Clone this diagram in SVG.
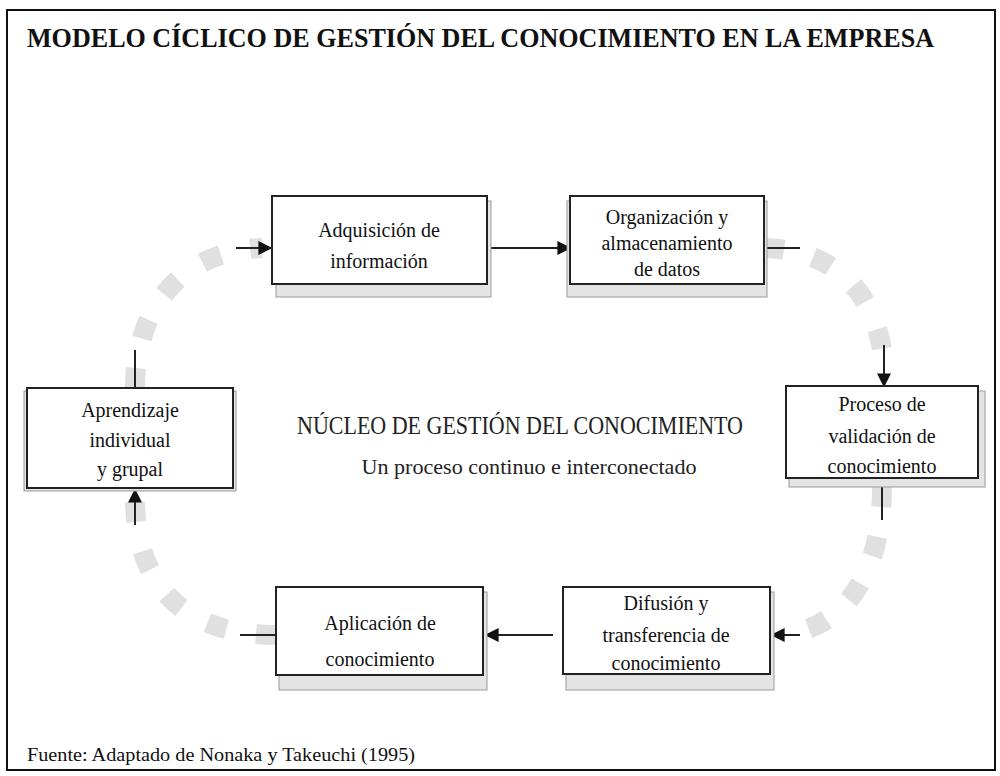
<svg xmlns="http://www.w3.org/2000/svg" width="1000" height="776" viewBox="0 0 1000 776">
<style>
.frame{fill:#fff;stroke:#111;stroke-width:2}
.box{fill:#fff;stroke:#222;stroke-width:2}
.shadow{fill:#e4e4e4;stroke:#9a9a9a;stroke-width:1}
.lbl{font-family:"Liberation Serif","Times New Roman",serif;font-size:20px;fill:#111;text-anchor:middle}
.title{font-family:"Liberation Serif","Times New Roman",serif;font-size:27px;font-weight:bold;fill:#111}
.ctr1{font-family:"Liberation Serif","Times New Roman",serif;font-size:25px;fill:#222;text-anchor:middle}
.ctr2{font-family:"Liberation Serif","Times New Roman",serif;font-size:21px;fill:#222;text-anchor:middle}
.foot{font-family:"Liberation Serif","Times New Roman",serif;font-size:18px;fill:#111}
.arc{fill:none;stroke:#e0e0e0;stroke-width:20;stroke-dasharray:20 30}
.conn{fill:none;stroke:#222;stroke-width:2;marker-end:url(#ah)}
.stub{fill:none;stroke:#222;stroke-width:2}
</style>
<defs>
<marker id="ah" viewBox="0 0 10 10" refX="9" refY="5" markerWidth="7" markerHeight="7" orient="auto-start-reverse">
<path d="M0,0 L10,5 L0,10 z" fill="#111"/>
</marker>
</defs>
<rect class="frame" x="7" y="10" width="988" height="760"/>
<text class="title" x="27" y="47" textLength="907" lengthAdjust="spacingAndGlyphs">MODELO CÍCLICO DE GESTIÓN DEL CONOCIMIENTO EN LA EMPRESA</text>

<g id="connectors">
<path class="arc" d="M135,388 C135,300 190,250 262,248"/>
<path class="arc" d="M764,248 C840,250 884,300 884,378"/>
<path class="arc" d="M882,487 C882,580 840,630 780,635"/>
<path class="arc" d="M276,635 C190,635 135,590 135,498"/>
<path class="conn" d="M487,248 L570,248"/>
<path class="conn" d="M553,635 L486,635"/>
<path class="conn" d="M236,248 L271,248"/>
<path class="conn" d="M884,345 L884,386"/>
<path class="conn" d="M800,635 L772,635"/>
<path class="conn" d="M135,525 L135,490"/>
<path class="stub" d="M135,388 L135,350"/>
<path class="stub" d="M764,248 L800,248"/>
<path class="stub" d="M882,487 L882,520"/>
<path class="stub" d="M276,635 L240,635"/>
</g>

<g id="n1">
<rect class="shadow" x="276" y="201" width="215" height="96"/>
<rect class="box" x="272" y="196" width="215" height="88"/>
<text class="lbl" x="379" y="237">Adquisición de</text>
<text class="lbl" x="379" y="268">información</text>
</g>
<g id="n2">
<rect class="shadow" x="567" y="201" width="200" height="96"/>
<rect class="box" x="570" y="196" width="194" height="88"/>
<text class="lbl" x="667" y="224">Organización y</text>
<text class="lbl" x="667" y="250">almacenamiento</text>
<text class="lbl" x="667" y="276">de datos</text>
</g>
<g id="n3">
<rect class="shadow" x="789" y="391" width="196" height="96"/>
<rect class="box" x="786" y="386" width="192" height="92"/>
<text class="lbl" x="882" y="411">Proceso de</text>
<text class="lbl" x="882" y="443">validación de</text>
<text class="lbl" x="882" y="473">conocimiento</text>
</g>
<g id="n4">
<rect class="shadow" x="566" y="592" width="208" height="98"/>
<rect class="box" x="563" y="587" width="207" height="87"/>
<text class="lbl" x="666" y="610">Difusión y</text>
<text class="lbl" x="666" y="642">transferencia de</text>
<text class="lbl" x="666" y="670">conocimiento</text>
</g>
<g id="n5">
<rect class="shadow" x="279" y="592" width="208" height="98"/>
<rect class="box" x="276" y="587" width="207" height="88"/>
<text class="lbl" x="380" y="630">Aplicación de</text>
<text class="lbl" x="380" y="666">conocimiento</text>
</g>
<g id="n6">
<rect class="shadow" x="24" y="391" width="212" height="100"/>
<rect class="box" x="27" y="388" width="206" height="100"/>
<text class="lbl" x="130" y="417">Aprendizaje</text>
<text class="lbl" x="130" y="447">individual</text>
<text class="lbl" x="130" y="476">y grupal</text>
</g>

<g id="center">
<text class="ctr1" x="520" y="434" textLength="446" lengthAdjust="spacingAndGlyphs">NÚCLEO DE GESTIÓN DEL CONOCIMIENTO</text>
<text class="ctr2" x="529" y="474" textLength="335" lengthAdjust="spacingAndGlyphs">Un proceso continuo e interconectado</text>
</g>
<text class="foot" x="27" y="761" textLength="388" lengthAdjust="spacingAndGlyphs">Fuente: Adaptado de Nonaka y Takeuchi (1995)</text>
</svg>
